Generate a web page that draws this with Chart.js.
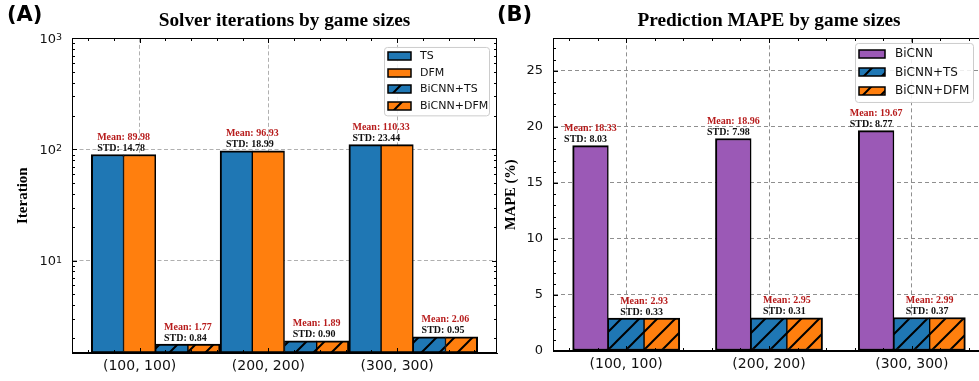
<!DOCTYPE html>
<html>
<head>
<meta charset="utf-8">
<script src="https://cdn.jsdelivr.net/npm/chart.js@4.4.1/dist/chart.umd.min.js"></script>
<style>
  html, body { margin: 0; padding: 0; background: #fff; overflow: hidden; }
  #wrap { position: relative; width: 979px; height: 381px; overflow: hidden; }
  canvas { position: absolute; top: 0; }
  #iterChart { left: 0; }
  #mapeChart { left: 490px; }
</style>
</head>
<body>
<div id="wrap">
  <canvas id="iterChart" width="510" height="381"></canvas>
  <canvas id="mapeChart" width="510" height="381"></canvas>
</div>
<script>
const gameSizes = ["(100, 100)", "(200, 200)", "(300, 300)"];

// (A) solver iterations
const solverMean = [89.98, 96.93, 110.33];
const solverStd = [14.78, 18.99, 23.44];
const bicnnSolverMean = [1.77, 1.89, 2.06];
const bicnnSolverStd = [0.84, 0.90, 0.95];
const iterTicks = [10, 100, 1000];
const iterTickExp = ["1", "2", "3"];

// (B) prediction MAPE
const bicnnMape = [18.33, 18.96, 19.67];
const bicnnMapeStd = [8.03, 7.98, 8.77];
const refinedMape = [2.93, 2.95, 2.99];
const refinedMapeStd = [0.33, 0.31, 0.37];
const mapeTicks = [0, 5, 10, 15, 20, 25];

const BLUE = "#1f77b4", ORANGE = "#ff7f0e", PURPLE = "#9b59b6";
const NOTE_RED = "#b71c1c";

Chart.defaults.font.family = '"DejaVu Sans", sans-serif';

// "/" hatch fill
function hatch(color) {
  const size = 18;
  const tile = document.createElement("canvas");
  tile.width = size;
  tile.height = size;
  const c = tile.getContext("2d");
  c.fillStyle = color;
  c.fillRect(0, 0, size, size);
  c.strokeStyle = "#000";
  c.lineWidth = 2;
  c.beginPath();
  c.moveTo(-2, size + 2); c.lineTo(size + 2, -2);
  c.moveTo(-2, 2); c.lineTo(2, -2);
  c.moveTo(size - 2, size + 2); c.lineTo(size + 2, size - 2);
  c.stroke();
  return c.createPattern(tile, "repeat");
}

const at = (vals, offset) => vals.map((v, i) => ({ x: i + offset, y: v }));

function bar(label, data, fill, left, right) {
  return {
    label, data, backgroundColor: fill,
    borderColor: "#000",
    borderWidth: { top: 2, bottom: 2, left, right },
    borderSkipped: false,
    grouped: false,
    categoryPercentage: 1,
    barPercentage: 1
  };
}

function steps(min, max, step) {
  const out = [];
  for (let v = Math.ceil(min / step) * step; v <= max + 1e-9; v += step) out.push(+v.toFixed(6));
  return out;
}

function xScale(min, max, gridColor, dash, height) {
  return {
    type: "linear", min, max, offset: false,
    afterBuildTicks: s => { s.ticks = gameSizes.map((_, i) => ({ value: i })); },
    afterFit: s => { s.height = height; },
    ticks: { callback: v => gameSizes[v], font: { size: 14 }, color: "#111", padding: 5, autoSkip: false, maxRotation: 0 },
    grid: { color: gridColor, lineWidth: 1, drawTicks: false, offset: false },
    border: { display: true, color: "#000", width: 1, dash }
  };
}

function panelDecor(opts) {
  return {
    id: "panelDecor",
    afterDatasetsDraw(chart) {
      const ctx = chart.ctx, a = chart.chartArea;
      const xs = chart.scales.x, ys = chart.scales.y;
      const top = Math.round(a.top) + 0.5, bottom = Math.round(a.bottom) - 0.5;
      const left = Math.round(a.left) + 0.5, right = Math.round(a.right) - 0.5;
      ctx.save();
      ctx.strokeStyle = "#000";
      ctx.lineWidth = 1;
      ctx.beginPath();
      const xTick = (v, len) => {
        const p = Math.round(xs.getPixelForValue(v)) + 0.5;
        ctx.moveTo(p, bottom); ctx.lineTo(p, bottom - len);
        ctx.moveTo(p, top); ctx.lineTo(p, top + len);
      };
      const yTick = (v, len) => {
        const p = Math.round(ys.getPixelForValue(v)) + 0.5;
        ctx.moveTo(left, p); ctx.lineTo(left + len, p);
        ctx.moveTo(right, p); ctx.lineTo(right - len, p);
      };
      opts.xMinor.forEach(v => xTick(v, 2.5));
      gameSizes.forEach((_, i) => xTick(i, 4.5));
      opts.yMinor.forEach(v => yTick(v, 2.5));
      opts.yMajor.forEach(v => yTick(v, 4.5));
      ctx.stroke();
      ctx.strokeRect(left, top, right - left, bottom - top);

      // mean / std labels above the bars
      ctx.font = 'bold 10px "Liberation Serif"';
      ctx.textAlign = "left";
      ctx.textBaseline = "alphabetic";
      opts.notes.forEach(n => {
        const barTop = ys.getPixelForValue(n.value);
        const l1 = "Mean: " + n.value.toFixed(2);
        const l2 = "STD: " + n.std.toFixed(2);
        const w = Math.max(ctx.measureText(l1).width, ctx.measureText(l2).width);
        const x0 = xs.getPixelForValue(n.x) - w / 2;
        ctx.fillStyle = NOTE_RED;
        ctx.fillText(l1, x0, barTop - 14.5);
        ctx.fillStyle = "#111";
        ctx.fillText(l2, x0, barTop - 3.5);
      });
      ctx.restore();
    },
    afterDraw(chart) {
      const ctx = chart.ctx, a = chart.chartArea, L = opts.legend;
      const sets = chart.data.datasets;
      const h = sets.length * L.rowH + 2 * L.padY;
      const x0 = a.right - L.right - L.width, y0 = a.top + L.top;
      ctx.save();
      ctx.beginPath();
      ctx.roundRect(x0 + 0.5, y0 + 0.5, L.width, h, 3);
      ctx.fillStyle = "rgba(255,255,255,0.85)";
      ctx.fill();
      ctx.strokeStyle = "#cccccc";
      ctx.lineWidth = 1;
      ctx.stroke();
      ctx.font = L.fontSize + 'px "DejaVu Sans"';
      ctx.textBaseline = "middle";
      sets.forEach((ds, i) => {
        const cy = y0 + L.padY + L.rowH * (i + 0.5);
        const px = x0 + 4, py = Math.round(cy - L.patchH / 2);
        ctx.fillStyle = ds.backgroundColor;
        ctx.fillRect(px, py, L.patchW, L.patchH);
        ctx.strokeStyle = "#000";
        ctx.lineWidth = 1.5;
        ctx.strokeRect(px, py, L.patchW, L.patchH);
        ctx.fillStyle = "#111";
        ctx.fillText(ds.label, x0 + L.textX, cy);
      });

      // power-of-ten tick labels with raised exponents
      if (opts.powerLabels) {
        const ys = chart.scales.y;
        ctx.fillStyle = "#111";
        opts.powerLabels.values.forEach((v, i) => {
          const py = ys.getPixelForValue(v);
          const exp = opts.powerLabels.exps[i];
          ctx.font = '9.5px "DejaVu Sans"';
          const ew = ctx.measureText(exp).width;
          ctx.font = '13px "DejaVu Sans"';
          const bw = ctx.measureText("10").width;
          const xr = a.left - 10;
          ctx.textBaseline = "middle";
          ctx.fillText("10", xr - ew - bw, py + 1.5);
          ctx.font = '9.5px "DejaVu Sans"';
          ctx.textBaseline = "alphabetic";
          ctx.fillText(exp, xr - ew, py + 2);
        });
      }

      ctx.font = 'bold 21px "DejaVu Sans"';
      ctx.fillStyle = "#000";
      ctx.textBaseline = "middle";
      ctx.fillText(opts.letter, 7, 16);
      ctx.restore();
    }
  };
}

function baseOptions(title, scales) {
  return {
    responsive: false,
    devicePixelRatio: 1,
    animation: false,
    events: [],
    layout: { padding: { left: 0, top: 0, bottom: 0, right: 13 } },
    plugins: {
      legend: { display: false },
      tooltip: { enabled: false },
      title: {
        display: true, text: title, fullSize: false, color: "#000",
        font: { family: "Liberation Serif", size: 19.3, weight: "bold" },
        padding: { top: 9.5, bottom: 5.7 }
      }
    },
    scales
  };
}

// (A) Solver iterations, log scale
const iterMin = 1.47, iterMax = 1000;
const iterXMin = -0.525, iterXMax = 2.775;
new Chart(document.getElementById("iterChart"), {
  type: "bar",
  data: {
    datasets: [
      bar("TS", at(solverMean, -0.25), BLUE, 2, 1),
      bar("DFM", at(solverMean, 0), ORANGE, 1, 1.5),
      bar("BiCNN+TS", at(bicnnSolverMean, 0.25), hatch(BLUE), 1, 1),
      bar("BiCNN+DFM", at(bicnnSolverMean, 0.5), hatch(ORANGE), 1, 2)
    ]
  },
  options: baseOptions("Solver iterations by game sizes", {
    x: xScale(iterXMin, iterXMax, "#b0b0b0", [4, 2.5], 28),
    y: {
      type: "logarithmic", min: iterMin, max: iterMax,
      afterBuildTicks: s => { s.ticks = iterTicks.map(v => ({ value: v, major: true })); },
      afterFit: s => { s.width = 72; },
      ticks: { display: false },
      grid: { color: "#b0b0b0", lineWidth: 1, drawTicks: false },
      border: { display: true, color: "#000", width: 1, dash: [4, 2.5] },
      title: {
        display: true, text: "Iteration", color: "#000",
        font: { family: "Liberation Serif", size: 15, weight: "bold" },
        padding: { top: 14, bottom: 0 }
      }
    }
  }),
  plugins: [panelDecor({
    letter: "(A)",
    powerLabels: { values: iterTicks, exps: iterTickExp },
    xMinor: steps(iterXMin, iterXMax, 0.2).filter(v => Math.abs(v - Math.round(v)) > 1e-6),
    yMajor: iterTicks,
    yMinor: [1, 10, 100].flatMap(d => [2, 3, 4, 5, 6, 7, 8, 9].map(k => k * d)).filter(v => v > iterMin && v < iterMax),
    notes: gameSizes.flatMap((_, i) => [
      { x: i - 0.125, value: solverMean[i], std: solverStd[i] },
      { x: i + 0.375, value: bicnnSolverMean[i], std: bicnnSolverStd[i] }
    ]),
    legend: { width: 105, right: 8, top: 8.6, rowH: 16.6, padY: 1, patchW: 23, patchH: 8, textX: 36, fontSize: 11 }
  })]
});

// (B) Prediction MAPE, linear scale
const mapeMax = 27.9;
const mapeXMin = -0.5125, mapeXMax = 2.5125;
const mapeOptions = baseOptions("Prediction MAPE by game sizes", {
  x: xScale(mapeXMin, mapeXMax, "#8f8f8f", [4, 3], 30),
  y: {
    type: "linear", min: 0, max: mapeMax,
    afterBuildTicks: s => { s.ticks = mapeTicks.map(v => ({ value: v })); },
    afterFit: s => { s.width = 63; },
    ticks: { font: { size: 13 }, color: "#111", padding: 10 },
    grid: { color: "#8f8f8f", lineWidth: 1, drawTicks: false },
    border: { display: true, color: "#000", width: 1, dash: [4, 3] },
    title: {
      display: true, text: "MAPE (%)", color: "#000",
      font: { family: "Liberation Serif", size: 14.5, weight: "bold" },
      padding: { top: 13, bottom: 0 }
    }
  }
});
mapeOptions.layout.padding.right = 15;

new Chart(document.getElementById("mapeChart"), {
  type: "bar",
  data: {
    datasets: [
      bar("BiCNN", at(bicnnMape, -0.25), PURPLE, 2, 1.5),
      bar("BiCNN+TS", at(refinedMape, 0), hatch(BLUE), 1, 1),
      bar("BiCNN+DFM", at(refinedMape, 0.25), hatch(ORANGE), 1, 2)
    ]
  },
  options: mapeOptions,
  plugins: [panelDecor({
    letter: "(B)",
    xMinor: steps(mapeXMin, mapeXMax, 0.2).filter(v => Math.abs(v - Math.round(v)) > 1e-6),
    yMajor: mapeTicks,
    yMinor: steps(0, mapeMax, 1).filter(v => v % 5 !== 0),
    notes: gameSizes.flatMap((_, i) => [
      { x: i - 0.25, value: bicnnMape[i], std: bicnnMapeStd[i] },
      { x: i + 0.125, value: refinedMape[i], std: refinedMapeStd[i] }
    ]),
    legend: { width: 118, right: 12, top: 4.6, rowH: 18.5, padY: 1.75, patchW: 26, patchH: 8, textX: 40, fontSize: 12 }
  })]
});
</script>
</body>
</html>
